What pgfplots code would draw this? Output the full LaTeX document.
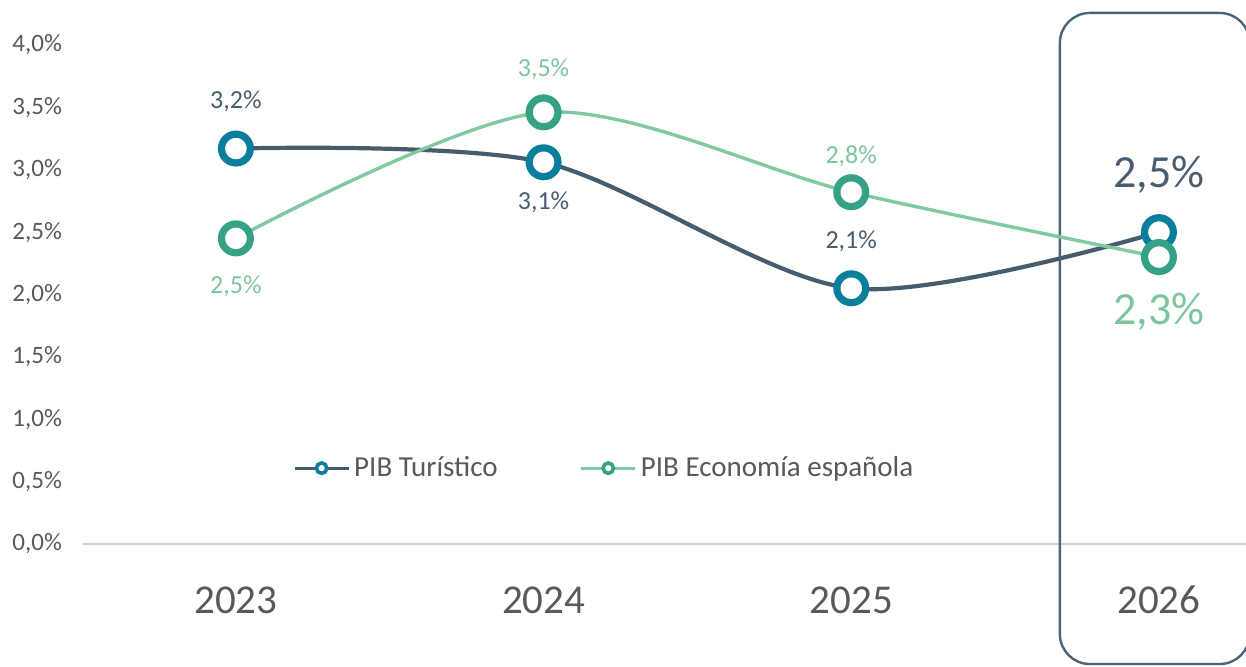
\documentclass[border=0pt]{standalone}
\usepackage{pgfplots}
\pgfplotsset{compat=1.18}
\usepackage{pgfplotstable}
\usepackage{fontspec}
\setmainfont{Carlito}
\definecolor{turline}{HTML}{475C6C}
\definecolor{turmark}{HTML}{0B7E9C}
\definecolor{turlab}{HTML}{4A5D6E}
\definecolor{ecoline}{HTML}{80C9A1}
\definecolor{ecomark}{HTML}{37A185}
\definecolor{ecolab}{HTML}{7DC59C}
\definecolor{boxc}{HTML}{4B6578}
\definecolor{txt}{HTML}{595959}

\pgfplotstableread{
x y lab dy
0 3.17 3.2 23.5
1 3.06 3.1 -20
2 2.05 2.1 23.5
}\turlabs
\pgfplotstableread{
x y lab dy
3 2.50 2.5 28.5
}\turbig
\pgfplotstableread{
x y lab dy
0 2.45 2.5 -24
1 3.46 3.5 21.5
2 2.82 2.8 18
}\ecolabs
\pgfplotstableread{
x y lab dy
3 2.30 2.3 -27.5
}\ecobig

\begin{document}
\begin{tikzpicture}
\begin{axis}[
  scale only axis,
  width=581.5pt, height=249.5pt,
  xmin=-0.497, xmax=3.283,
  ymin=0, ymax=4,
  clip=false,
  axis lines*=left,
  y axis line style={draw=none},
  x axis line style={draw=black!18, line width=0.8pt},
  major tick length=0pt,
  xtick={0,1,2,3},
  xticklabels={2023,2024,2025,2026},
  xticklabel style={anchor=center, yshift=-28pt, font=\fontsize{20.5}{24}\selectfont, text=txt},
  ytick={0,0.5,...,4},
  yticklabel={\pgfmathprintnumber[fixed,fixed zerofill,precision=1,use comma]{\tick}\%},
  yticklabel style={anchor=east, xshift=-7pt, font=\fontsize{12.5}{14}\selectfont, text=txt},
  /pgf/number format/assume math mode=true,
  legend columns=2,
  legend style={draw=none, fill=none, at={(0.449,0.152)}, anchor=center,
    font=\fontsize{14.5}{17}\selectfont, text=txt,
    /tikz/every even column/.append style={column sep=39pt}},
]
\draw[boxc, line width=1.2pt, rounded corners=15pt] (axis cs:2.678,-0.962) rectangle (axis cs:3.295,4.257);

\addplot[turline, line width=2.1pt, smooth, mark=*, mark size=7.2pt,
  mark options={draw=turmark, fill=white, line width=3.6pt},
  legend image code/.code={
    \draw[turline, line width=1.6pt] (0pt,0pt) -- (27pt,0pt);
    \draw[turmark, fill=white, line width=1.8pt] (13.5pt,0pt) circle (2.6pt);}]
  coordinates {(0,3.17) (1,3.06) (2,2.05) (3,2.50)};
\addlegendentry{PIB Turístico}
\addplot[ecoline, line width=1.7pt, smooth, mark=*, mark size=7.2pt,
  mark options={draw=ecomark, fill=white, line width=3.6pt},
  legend image code/.code={
    \draw[ecoline, line width=1.6pt] (0pt,0pt) -- (27pt,0pt);
    \draw[ecomark, fill=white, line width=1.8pt] (13.5pt,0pt) circle (2.6pt);}]
  coordinates {(0,2.45) (1,3.46) (2,2.82) (3,2.30)};
\addlegendentry{PIB Economía española}

\addplot[forget plot, draw=none, mark=none, point meta=explicit,
  nodes near coords={\pgfmathprintnumber[fixed,fixed zerofill,precision=1,use comma]{\pgfplotspointmeta}\%},
  visualization depends on={\thisrow{dy}\as\dy},
  every node near coord/.append style={anchor=center, yshift=\dy pt, text=turlab, font=\fontsize{13}{15}\selectfont}]
  table[x=x,y=y,meta=lab]{\turlabs};
\addplot[forget plot, draw=none, mark=none, point meta=explicit,
  nodes near coords={\pgfmathprintnumber[fixed,fixed zerofill,precision=1,use comma]{\pgfplotspointmeta}\%},
  visualization depends on={\thisrow{dy}\as\dy},
  every node near coord/.append style={anchor=center, yshift=\dy pt, text=turlab, font=\fontsize{23}{26}\selectfont}]
  table[x=x,y=y,meta=lab]{\turbig};
\addplot[forget plot, draw=none, mark=none, point meta=explicit,
  nodes near coords={\pgfmathprintnumber[fixed,fixed zerofill,precision=1,use comma]{\pgfplotspointmeta}\%},
  visualization depends on={\thisrow{dy}\as\dy},
  every node near coord/.append style={anchor=center, yshift=\dy pt, text=ecolab, font=\fontsize{13}{15}\selectfont}]
  table[x=x,y=y,meta=lab]{\ecolabs};
\addplot[forget plot, draw=none, mark=none, point meta=explicit,
  nodes near coords={\pgfmathprintnumber[fixed,fixed zerofill,precision=1,use comma]{\pgfplotspointmeta}\%},
  visualization depends on={\thisrow{dy}\as\dy},
  every node near coord/.append style={anchor=center, yshift=\dy pt, text=ecolab, font=\fontsize{23}{26}\selectfont}]
  table[x=x,y=y,meta=lab]{\ecobig};

\coordinate (bl) at (rel axis cs:0,0);
\coordinate (tr) at (rel axis cs:1,1);
\end{axis}
\pgfresetboundingbox
\path[use as bounding box] ([xshift=-41.5pt,yshift=-61pt]bl) rectangle ([yshift=22.5pt]tr);
\end{tikzpicture}
\end{document}
